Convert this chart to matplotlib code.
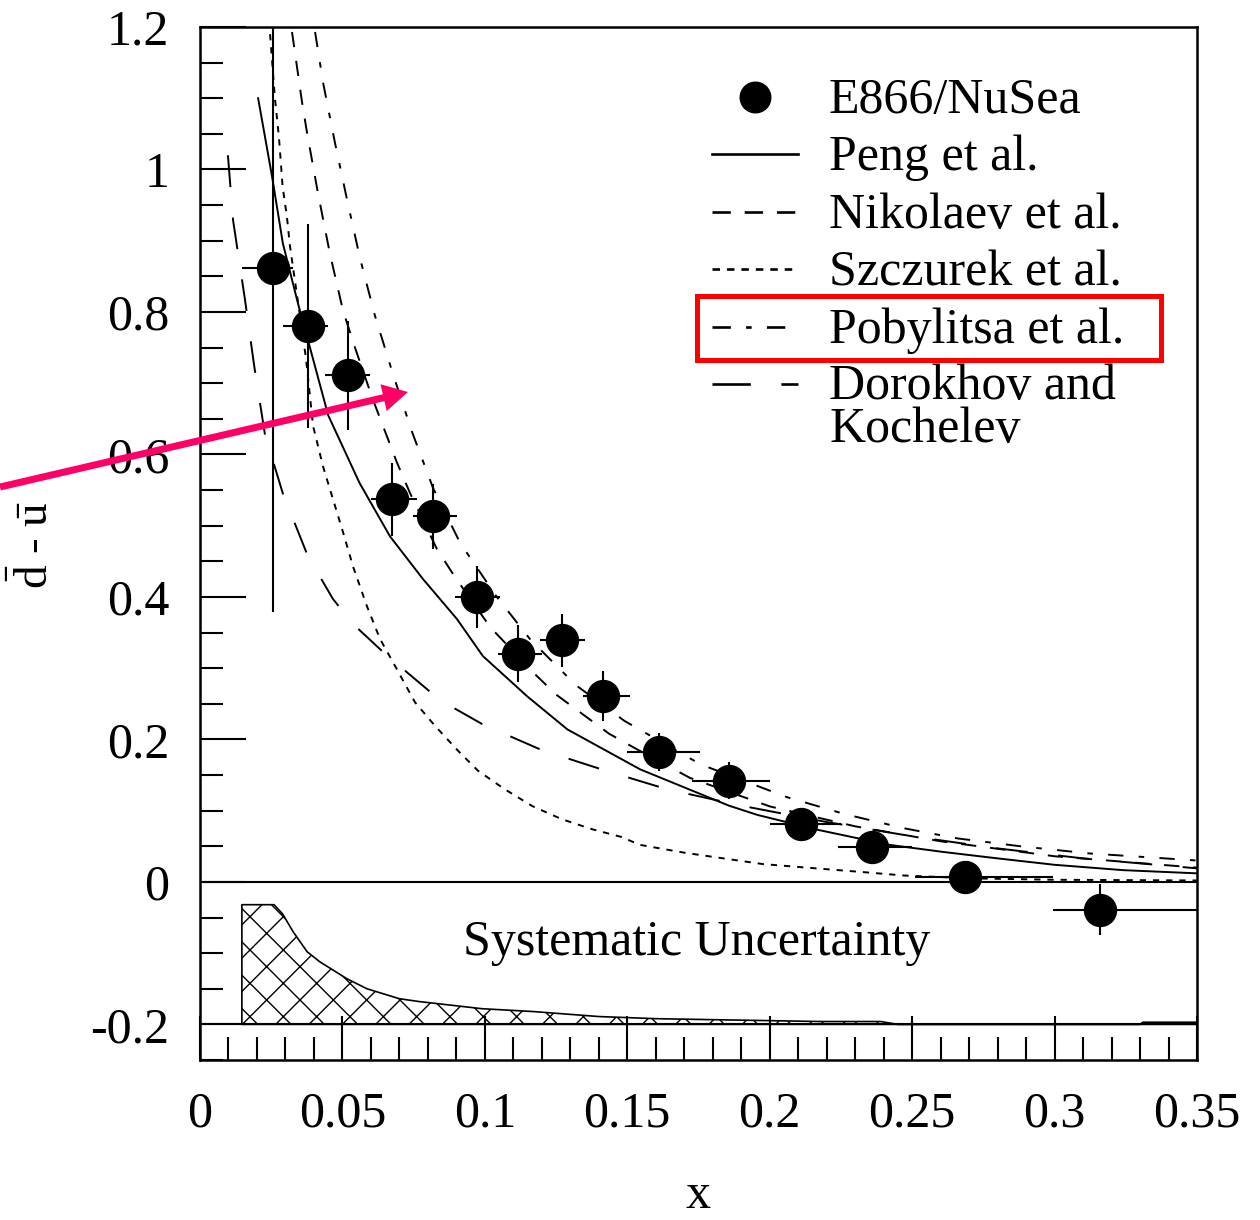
import numpy as np
import matplotlib
matplotlib.use("Agg")
import matplotlib.pyplot as plt
from matplotlib.patches import Rectangle, FancyArrowPatch
from matplotlib.ticker import MultipleLocator, FormatStrFormatter

plt.rcParams['font.family'] = ['Liberation Serif', 'DejaVu Serif']
plt.rcParams['mathtext.fontset'] = 'custom'
plt.rcParams['mathtext.rm'] = 'Liberation Serif'
plt.rcParams['axes.unicode_minus'] = False
plt.rcParams['lines.scale_dashes'] = False
plt.rcParams['hatch.linewidth'] = 1.0

# E866/NuSea measurement
x_data = [0.0256, 0.0379, 0.052, 0.0674, 0.0818, 0.0972, 0.1116, 0.127,
          0.1415, 0.161, 0.1857, 0.211, 0.236, 0.2685, 0.316]
y_data = [0.862, 0.780, 0.711, 0.537, 0.513, 0.400, 0.320, 0.339,
          0.261, 0.182, 0.142, 0.081, 0.049, 0.007, -0.039]
y_err = [0.483, 0.143, 0.077, 0.051, 0.046, 0.043, 0.040, 0.037,
         0.035, 0.027, 0.026, 0.020, 0.020, 0.020, 0.036]
x_err_lo = [0.0109, 0.0087, 0.0081, 0.0075, 0.0070, 0.0077, 0.0070, 0.0076,
            0.0070, 0.0110, 0.0130, 0.0110, 0.0120, 0.0175, 0.0165]
x_err_hi = [0.0071, 0.0071, 0.0077, 0.0088, 0.0084, 0.0081, 0.0084, 0.0080,
            0.0095, 0.0145, 0.0143, 0.0140, 0.0140, 0.0310, 0.0340]

# systematic uncertainty band (drawn up from -0.2)
sys_x = [0.0147, 0.026, 0.029, 0.0327, 0.0376, 0.042, 0.0516, 0.0586, 0.070,
         0.077, 0.099, 0.117, 0.140, 0.160, 0.218, 0.239, 0.245, 0.330,
         0.331, 0.350]
sys_unc = [0.168, 0.168, 0.155, 0.130, 0.102, 0.088, 0.064, 0.050, 0.036,
           0.032, 0.022, 0.018, 0.011, 0.008, 0.004, 0.004, 0.0, 0.0,
           0.003, 0.003]

# model curves
peng_x = [0.0204, 0.0253, 0.0291, 0.0344, 0.0386, 0.045, 0.056, 0.0667,
          0.0783, 0.0902, 0.0993, 0.115, 0.129, 0.1545, 0.1857, 0.1957,
          0.217, 0.23, 0.242, 0.261, 0.28, 0.30, 0.324, 0.35]
peng_y = [1.10, 0.99, 0.896, 0.812, 0.75, 0.655, 0.56, 0.485, 0.425, 0.369,
          0.317, 0.26, 0.214, 0.158, 0.107, 0.094, 0.073, 0.062, 0.052,
          0.042, 0.033, 0.024, 0.0165, 0.012]

nikolaev_x = [0.0323, 0.0358, 0.0376, 0.0414, 0.0456, 0.0502, 0.0544, 0.0607,
              0.069, 0.0737, 0.0832, 0.0895, 0.102, 0.118, 0.125, 0.1436,
              0.153, 0.172, 0.20, 0.23, 0.26, 0.30, 0.35]
nikolaev_y = [1.193, 1.095, 1.051, 0.967, 0.882, 0.802, 0.75, 0.677, 0.59,
              0.546, 0.467, 0.428, 0.357, 0.29, 0.263, 0.208, 0.187, 0.146,
              0.106, 0.078, 0.057, 0.036, 0.020]

szczurek_x = [0.0246, 0.0263, 0.0277, 0.0290, 0.0305, 0.0316, 0.0344, 0.0372,
              0.0397, 0.0432, 0.0467, 0.0502, 0.0537, 0.0586, 0.0632, 0.0678,
              0.0755, 0.0825, 0.0906, 0.0976, 0.107, 0.1166, 0.127, 0.1376,
              0.148, 0.1544, 0.170, 0.182, 0.1976, 0.210, 0.232, 0.247, 0.27,
              0.30, 0.35]
szczurek_y = [1.19, 1.10, 1.046, 0.976, 0.934, 0.892, 0.814, 0.735, 0.640,
              0.583, 0.537, 0.491, 0.443, 0.387, 0.341, 0.308, 0.252, 0.219,
              0.184, 0.156, 0.130, 0.1065, 0.088, 0.074, 0.063, 0.052, 0.041,
              0.034, 0.025, 0.021, 0.014, 0.009, 0.005, 0.003, 0.002]

pobylitsa_x = [0.0404, 0.0432, 0.0474, 0.0516, 0.0562, 0.0614, 0.0678, 0.0744,
               0.0818, 0.0913, 0.104, 0.116, 0.132, 0.149, 0.1757, 0.206,
               0.2265, 0.2475, 0.266, 0.288, 0.312, 0.335, 0.35]
pobylitsa_y = [1.193, 1.122, 1.037, 0.958, 0.875, 0.795, 0.712, 0.632, 0.553,
               0.476, 0.401, 0.340, 0.276, 0.226, 0.165, 0.119, 0.095, 0.075,
               0.061, 0.050, 0.040, 0.034, 0.030]

dorokhov_x = [0.0098, 0.0116, 0.0158, 0.019, 0.0228, 0.0291, 0.0379, 0.0467,
              0.0537, 0.065, 0.0843, 0.0993, 0.120, 0.1425, 0.164, 0.19,
              0.22, 0.25, 0.28, 0.31, 0.35]
dorokhov_y = [1.02, 0.929, 0.817, 0.725, 0.628, 0.545, 0.457, 0.397, 0.362,
              0.32, 0.255, 0.221, 0.185, 0.156, 0.130, 0.107, 0.084, 0.064,
              0.047, 0.033, 0.019]

models = [
    ("Peng et al.", peng_x, peng_y, None),
    ("Nikolaev et al.", nikolaev_x, nikolaev_y, (11, 10)),
    ("Szczurek et al.", szczurek_x, szczurek_y, (4.5, 5)),
    ("Pobylitsa et al.", pobylitsa_x, pobylitsa_y, (11, 11, 4, 11)),
    ("Dorokhov and\nKochelev", dorokhov_x, dorokhov_y, (23, 22)),
]

fig = plt.figure(figsize=(12.6, 12.2), dpi=100)
ax = fig.add_axes([200 / 1260, 1 - 1060 / 1220, 997 / 1260, 1033 / 1220])

# systematic band
sys_top = -0.2 + np.array(sys_unc)
ax.fill_between(sys_x, -0.2, sys_top, facecolor='none', edgecolor='black',
                hatch='x', linewidth=1.2)

ax.axhline(0, color='black', lw=1.5)
ax.axhline(-0.2, color='black', lw=1.5)

for label, mx, my, dash in models:
    if dash is None:
        ax.plot(mx, my, color='black', lw=1.4)
    else:
        ax.plot(mx, my, color='black', lw=1.4, dashes=dash)

ax.errorbar(x_data, y_data, yerr=y_err, xerr=[x_err_lo, x_err_hi], fmt='o',
            color='black', ms=23, elinewidth=1.5, capsize=0, zorder=5)

ax.set_xlim(0, 0.35)
ax.set_ylim(-0.25, 1.2)
ax.xaxis.set_major_locator(MultipleLocator(0.05))
ax.xaxis.set_minor_locator(MultipleLocator(0.01))
ax.yaxis.set_major_locator(MultipleLocator(0.2))
ax.yaxis.set_minor_locator(MultipleLocator(0.05))
ax.xaxis.set_major_formatter(FormatStrFormatter('%g'))
ax.yaxis.set_major_formatter(FormatStrFormatter('%g'))

ax.tick_params(which='both', direction='in', top=False, right=False,
               width=1.5, labelsize=36, pad=22)
ax.tick_params(axis='y', which='major', length=33)
ax.tick_params(axis='y', which='minor', length=16.5)
ax.tick_params(axis='x', which='major', length=32)
ax.tick_params(axis='x', which='minor', length=16.5)
for sp in ax.spines.values():
    sp.set_linewidth(1.8)

ax.set_xlabel('x', fontsize=36, va='baseline')
ax.xaxis.set_label_coords(0.5, -0.143)
ax.set_ylabel(r'$\bar{\mathrm{d}}$ - $\bar{\mathrm{u}}$', fontsize=34,
              va='baseline')
ax.yaxis.set_label_coords(-0.152, 0.4985)

ax.text(0.4985, 0.1016, 'Systematic Uncertainty', transform=ax.transAxes,
        fontsize=36, ha='center', va='baseline')

# legend drawn by hand so the two-line entry sits like the original
h0, h1, tx = 0.5135, 0.5998, 0.6309
row0, drow, base_off, line_gap = 0.9322, 0.05557, -0.0155, 0.0410
ax.plot([(h0 + h1) / 2], [row0], 'o', color='black', ms=22,
        transform=ax.transAxes, clip_on=False)
ax.text(tx, row0 + base_off, 'E866/NuSea', transform=ax.transAxes,
        fontsize=36, va='baseline', ha='left')
for i, (label, mx, my, dash) in enumerate(models, start=1):
    yy = row0 - i * drow
    kw = dict(color='black', lw=1.9, transform=ax.transAxes, clip_on=False)
    if dash is None:
        ax.plot([h0, h1], [yy, yy], **kw)
    else:
        ax.plot([h0, h1], [yy, yy], dashes=(dash[0] * 1.2,) + tuple(dash[1:]), **kw)
    # baseline alignment follows the last line, so shift multi-line labels
    n_extra = label.count('\n')
    ax.text(tx, yy + base_off - n_extra * line_gap, label,
            transform=ax.transAxes, fontsize=36, va='baseline', ha='left',
            linespacing=0.9)

# red highlight box around the Pobylitsa entry
ax.add_patch(Rectangle((0.4985, 0.6776), 0.4654, 0.0620, fill=False,
                       edgecolor='#ff0000', lw=3.6, transform=ax.transAxes,
                       clip_on=False, zorder=6))

# pointer arrow
fig.add_artist(FancyArrowPatch((0.0, 0.6008), (0.3238, 0.6787),
                               transform=fig.transFigure,
                               arrowstyle='simple,head_length=0.5,head_width=0.55,tail_width=0.14',
                               mutation_scale=36, color='#ff0066', lw=0,
                               shrinkA=0, shrinkB=0, zorder=10))

fig.savefig('out.png', dpi=100)
